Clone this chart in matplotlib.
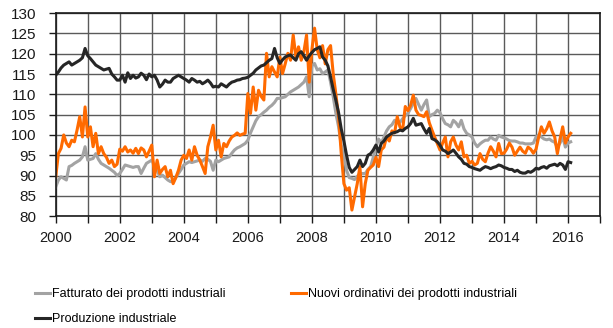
import numpy as np
import matplotlib
matplotlib.use("Agg")
from matplotlib import pyplot as plt

plt.rcParams["font.family"] = ["Liberation Sans", "DejaVu Sans"]

# Monthly index levels, Jan 2000 .. Feb 2016 (one row per year)
fatturato = [
    87.2, 88.9, 89.7, 89.3, 88.9, 92.2, 92.5, 93.0, 93.4, 93.8, 94.6, 97.1,
    93.8, 94.0, 94.2, 95.4, 94.0, 93.0, 92.6, 92.2, 91.8, 91.3, 90.8, 90.0,
    90.5, 91.5, 92.6, 92.4, 92.2, 92.0, 92.2, 92.2, 90.5, 91.8, 93.0, 93.4,
    93.8, 92.5, 91.3, 89.7, 90.1, 89.5, 88.9, 88.5, 88.5, 89.5, 90.5, 91.5,
    92.6, 93.0, 93.4, 93.2, 93.4, 93.6, 93.8, 93.5, 94.2, 94.0, 93.5, 91.3,
    93.8, 93.4, 93.8, 94.2, 94.4, 94.6, 95.5, 96.3, 96.8, 97.1, 97.5, 97.9,
    98.7, 100.5, 102.0, 103.5, 104.5, 105.0, 105.6, 106.1, 106.8, 107.3, 108.0, 109.0,
    109.0, 109.2, 109.4, 110.0, 110.6, 111.0, 111.4, 111.8, 112.4, 113.0, 114.3, 109.4,
    117.0, 117.6, 116.0, 116.3, 115.1, 115.5, 116.0, 113.0, 109.4, 105.3, 102.0, 97.5,
    95.0, 91.3, 89.5, 89.3, 89.0, 89.8, 90.5, 90.5, 90.5, 91.5, 92.2, 94.5,
    97.0, 99.0, 98.0, 99.5, 101.0, 102.0, 102.5, 103.6, 103.2, 103.1, 104.0, 104.8,
    105.3, 106.5, 107.8, 109.0, 107.5, 106.1, 107.5, 108.6, 104.5, 105.0, 105.3, 106.1,
    105.5, 104.0, 102.8, 102.5, 102.0, 103.6, 103.0, 102.0, 103.6, 101.5, 100.4, 100.0,
    99.5, 98.0, 97.1, 97.8, 98.3, 98.7, 98.7, 99.5, 99.0, 98.7, 99.9, 99.5,
    99.3, 99.0, 98.6, 98.5, 98.5, 98.3, 98.0, 98.0, 97.8, 97.8, 97.8, 98.0,
    99.5, 100.0, 99.5, 99.0, 98.8, 99.0, 98.5, 98.2, 97.0, 98.0, 99.5, 97.0,
    98.0, 98.3,
]
ordinativi = [
    89.7, 95.4, 96.7, 100.0, 98.0, 97.1, 98.7, 98.3, 101.2, 104.5, 99.5, 106.9,
    99.5, 102.0, 97.1, 100.4, 95.4, 97.1, 95.4, 94.5, 93.0, 93.8, 92.2, 92.8,
    96.5, 96.0, 97.1, 95.8, 96.3, 95.5, 96.7, 95.4, 96.8, 96.3, 94.6, 96.0,
    97.5, 89.7, 93.8, 90.5, 91.5, 92.2, 89.7, 91.3, 88.0, 89.5, 91.3, 93.8,
    95.0, 94.2, 96.3, 93.8, 97.1, 95.0, 93.8, 92.2, 90.5, 97.1, 99.5, 102.4,
    96.3, 98.7, 94.6, 97.9, 97.1, 98.5, 99.5, 99.9, 100.5, 99.9, 100.2, 100.4,
    110.2, 105.3, 111.8, 106.1, 111.0, 109.5, 108.6, 120.1, 114.3, 116.8, 115.5, 114.3,
    119.2, 115.1, 117.5, 120.1, 118.4, 124.6, 119.2, 121.7, 118.4, 120.5, 124.6, 113.0,
    121.0, 126.3, 121.0, 119.0, 122.0, 117.5, 121.0, 122.0, 115.0, 110.0, 104.5, 95.5,
    88.0, 86.4, 87.0, 81.5, 84.7, 88.0, 92.2, 82.3, 88.0, 91.3, 92.0, 92.6,
    94.5, 92.2, 96.3, 97.0, 99.5, 98.5, 101.0, 100.5, 104.5, 102.0, 101.2, 107.0,
    106.0, 107.3, 109.8, 106.1, 105.0, 104.8, 104.5, 105.7, 103.0, 101.2, 99.5, 97.9,
    96.3, 98.0, 99.5, 94.6, 98.3, 99.5, 97.5, 96.3, 98.3, 94.6, 95.0, 93.0,
    93.5, 92.6, 93.0, 95.4, 94.0, 93.4, 95.5, 97.1, 96.0, 94.6, 97.9, 95.4,
    95.5, 96.5, 98.0, 97.0, 95.0, 96.0, 97.0, 96.0, 95.5, 97.0, 96.5, 95.5,
    96.5, 99.5, 102.0, 100.4, 101.5, 103.2, 101.0, 99.5, 95.4, 99.0, 102.0, 98.0,
    99.5, 100.4,
]
produzione = [
    114.7, 115.5, 116.5, 117.2, 117.6, 118.0, 117.2, 117.6, 118.0, 118.4, 119.0, 121.3,
    119.5, 118.8, 118.0, 117.2, 116.8, 116.4, 116.0, 116.2, 116.4, 115.0, 114.3, 113.5,
    113.5, 114.7, 113.0, 115.3, 113.9, 114.7, 114.0, 114.3, 115.2, 114.7, 113.6, 115.0,
    114.3, 114.7, 113.5, 111.8, 112.5, 113.5, 113.0, 113.0, 113.9, 114.3, 114.7, 114.3,
    113.9, 113.5, 113.0, 113.9, 113.5, 113.0, 113.2, 112.6, 113.0, 113.5, 112.8, 111.8,
    112.0, 111.8, 112.6, 112.2, 111.8, 112.5, 113.0, 113.2, 113.5, 113.6, 113.9, 114.0,
    114.2, 114.7, 115.2, 116.0, 116.5, 117.0, 117.2, 117.8, 118.4, 118.8, 121.3, 119.0,
    117.6, 118.5, 119.2, 119.5, 119.7, 119.0, 118.4, 120.0, 120.5, 119.5, 118.4, 119.5,
    120.3, 121.0, 121.3, 121.7, 119.2, 118.4, 117.0, 114.3, 111.2, 108.5, 105.5, 101.5,
    98.5, 95.0, 92.0, 90.8, 91.5, 92.2, 93.8, 92.2, 93.0, 95.0, 95.4, 96.3,
    97.5, 95.8, 97.9, 98.5, 99.5, 100.0, 100.4, 100.6, 100.8, 101.2, 101.0, 101.6,
    102.0, 102.8, 104.1, 102.4, 102.6, 102.8, 101.5, 100.4, 101.6, 99.1, 98.8, 98.3,
    97.5, 96.3, 96.0, 95.4, 95.8, 96.3, 95.5, 94.6, 94.0, 93.0, 92.8, 92.2,
    92.0, 91.7, 91.5, 91.3, 91.8, 92.2, 92.0, 91.7, 92.0, 92.2, 92.6, 92.4,
    92.0, 91.8, 91.5, 91.5, 91.0, 91.3, 90.8, 90.6, 90.6, 91.0, 90.8, 91.2,
    91.8, 91.6, 92.0, 92.2, 91.8, 92.4, 92.6, 92.8, 92.4, 93.0, 92.6, 91.5,
    93.4, 93.2,
]
labels = ["Fatturato dei prodotti industriali",
          "Nuovi ordinativi dei prodotti industriali",
          "Produzione industriale"]
colors = ["#a3a3a3", "#ff6a00", "#262626"]

t = 2000 + np.arange(len(produzione)) / 12.0

fig = plt.figure(figsize=(6.13, 3.28), dpi=100)
ax = fig.add_axes([0.0909, 0.341, 0.888, 0.619])

handles = []
for y, c, lab in zip([fatturato, ordinativi, produzione], colors, labels):
    h, = ax.plot(t, y, color=c, lw=2.2, label=lab, solid_joinstyle="round")
    handles.append(h)

ax.set_xlim(2000, 2017)
ax.set_ylim(80, 130)
ax.set_xticks(range(2000, 2018))
ax.set_xticklabels([str(y) if y % 2 == 0 else "" for y in range(2000, 2018)])
ax.set_yticks(range(80, 131, 5))
ax.grid(True, color="#5a5a5a", lw=1.0)
ax.set_axisbelow(True)
for s in ax.spines.values():
    s.set_color("#1a1a1a")
    s.set_linewidth(1.2)
ax.tick_params(axis="both", labelsize=10.5, colors="#1a1a1a", length=5, width=1)
ax.tick_params(axis="y", labelsize=11, pad=9)
ax.tick_params(axis="x", pad=6)

# legend: two entries on the first row, production on the second
fig.legend([handles[0], handles[2], handles[1]],
           [labels[0], labels[2], labels[1]],
           ncol=2, loc="upper left", bbox_to_anchor=(0.049, 0.136),
           frameon=False, fontsize=9, handlelength=1.2, handletextpad=0.16,
           columnspacing=5.2, labelspacing=1.0, borderaxespad=0)

fig.savefig("out.png", dpi=100)
